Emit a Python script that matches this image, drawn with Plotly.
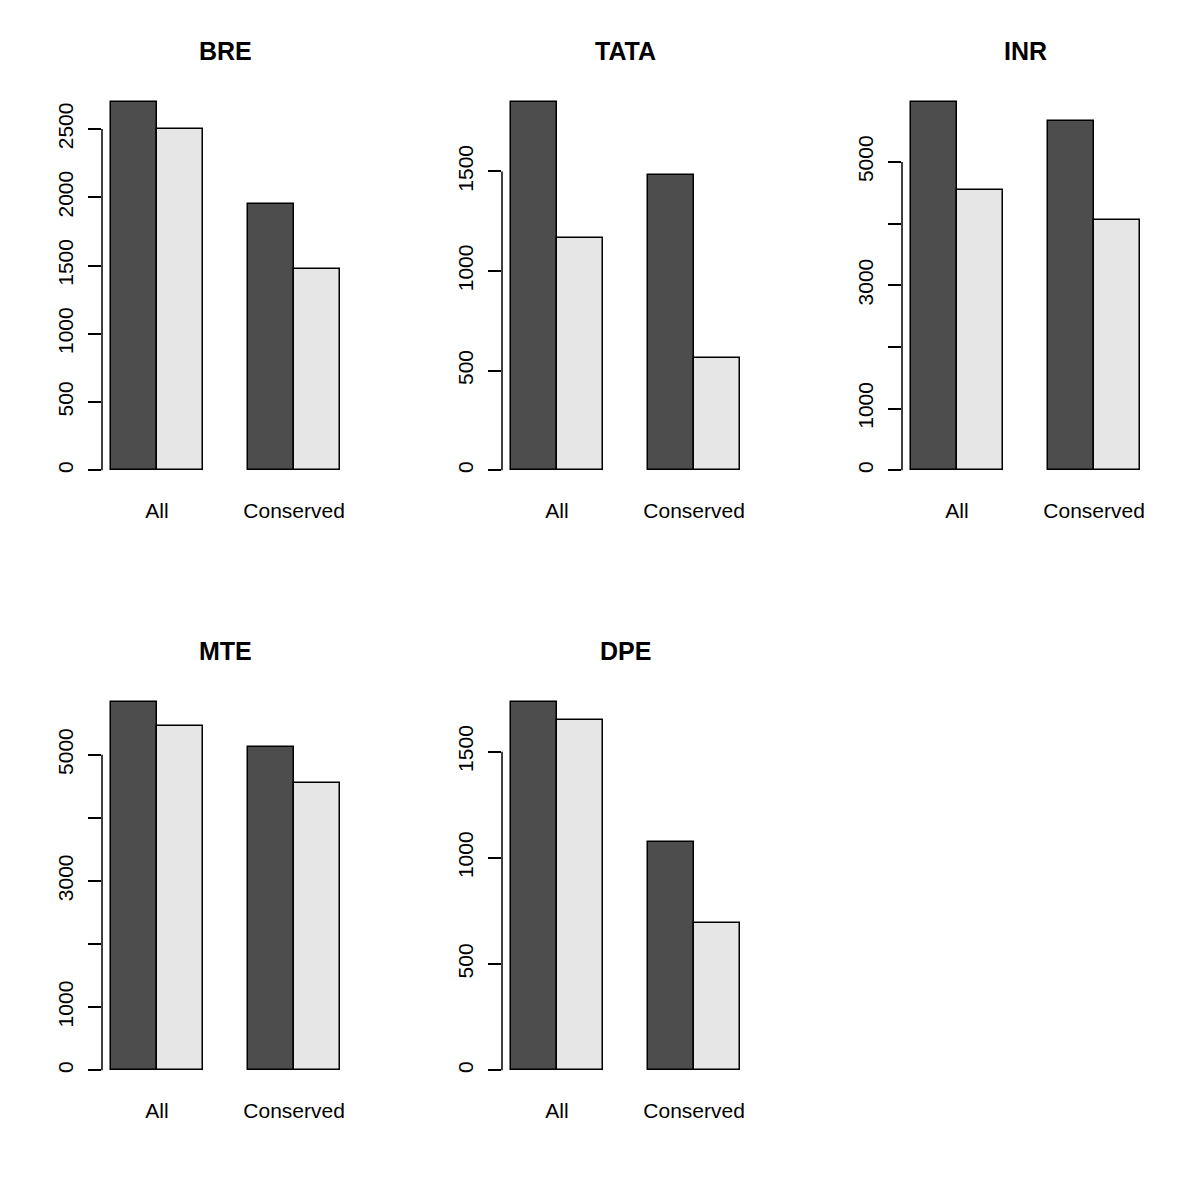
import plotly.graph_objects as go

motifs = ["BRE", "TATA", "INR", "MTE", "DPE"]
groups = ["All", "Conserved"]
dark_vals = [[2700, 1950], [1850, 1480], [5975, 5665], [5840, 5130], [1735, 1075]]
light_vals = [[2500, 1475], [1165, 565], [4545, 4055], [5460, 4555], [1650, 695]]
tick_vals = [
    [0, 500, 1000, 1500, 2000, 2500],
    [0, 500, 1000, 1500],
    [0, 1000, 2000, 3000, 4000, 5000],
    [0, 1000, 2000, 3000, 4000, 5000],
    [0, 500, 1000, 1500],
]
tick_text = [
    ["0", "500", "1000", "1500", "2000", "2500"],
    ["0", "500", "1000", "1500"],
    ["0", "1000", "", "3000", "", "5000"],
    ["0", "1000", "", "3000", "", "5000"],
    ["0", "500", "1000", "1500"],
]

DARK = "#4d4d4d"
LIGHT = "#e6e6e6"
FONT = "Liberation Sans, Arial, sans-serif"

# panel plot regions in pixels (left, right, top, bottom) for a 1200x1200 page
# (page body margin pushes the figure ~7px right/down, so compensate)
W = H = 1200
OFF = 7
cols = [(101 - OFF, 348 - OFF), (501 - OFF, 748 - OFF), (901 - OFF, 1148 - OFF)]
rows = [(86 - OFF, 484 - OFF), (686 - OFF, 1084 - OFF)]

fig = go.Figure()
layout = {}
shapes = []
annotations = []

for i, name in enumerate(motifs):
    r, c = divmod(i, 3)
    n = i + 1
    xa = "x" if n == 1 else "x%d" % n
    ya = "y" if n == 1 else "y%d" % n
    xkey = "xaxis" if n == 1 else "xaxis%d" % n
    ykey = "yaxis" if n == 1 else "yaxis%d" % n

    # bars: two per group, group gap of one bar width (R barplot beside=TRUE)
    xs, ys, cs = [], [], []
    for g in range(len(groups)):
        base = g * 3
        xs += [base + 0.5, base + 1.5]
        ys += [dark_vals[i][g], light_vals[i][g]]
        cs += [DARK, LIGHT]
    fig.add_trace(go.Bar(
        x=xs, y=ys, width=1, xaxis=xa, yaxis=ya,
        marker=dict(color=cs, line=dict(color="black", width=1.5)),
        showlegend=False, hoverinfo="y",
    ))

    ymax = max(dark_vals[i] + light_vals[i])
    x0, x1 = cols[c]
    y0, y1 = rows[r]
    layout[xkey] = dict(
        domain=[x0 / W, x1 / W], anchor=ya, range=[-0.2, 5.2],
        tickvals=[g * 3 + 1 for g in range(len(groups))], ticktext=groups,
        ticks="", showgrid=False, zeroline=False, showline=False,
        tickfont=dict(family=FONT, size=21, color="black"),
        ticklabelstandoff=11, fixedrange=True,
    )
    layout[ykey] = dict(
        domain=[1 - y1 / H, 1 - y0 / H], anchor=xa,
        range=[-0.04 * ymax, 1.04 * ymax],
        tickvals=tick_vals[i], ticktext=tick_text[i], tickangle=-90,
        ticks="outside", ticklen=13, tickwidth=1.5, tickcolor="black",
        showgrid=False, zeroline=False, showline=False,
        tickfont=dict(family=FONT, size=21, color="black"),
        ticklabelstandoff=7, fixedrange=True,
    )
    # R-style axis line only between first and last tick
    shapes.append(dict(
        type="line", xref=xa + " domain", yref=ya,
        x0=0, x1=0, y0=tick_vals[i][0], y1=tick_vals[i][-1],
        line=dict(color="black", width=1.5),
    ))
    annotations.append(dict(
        text="<b>%s</b>" % name, xref=xa + " domain", yref="paper",
        x=0.5, y=1 - (y0 - 36) / H, xanchor="center", yanchor="middle",
        showarrow=False, font=dict(family=FONT, size=25, color="black"),
    ))

fig.update_layout(
    width=W, height=H, margin=dict(l=0, r=0, t=0, b=0),
    paper_bgcolor="white", plot_bgcolor="white",
    shapes=shapes, annotations=annotations, bargap=0,
    **layout,
)

fig.write_html("out.html")
